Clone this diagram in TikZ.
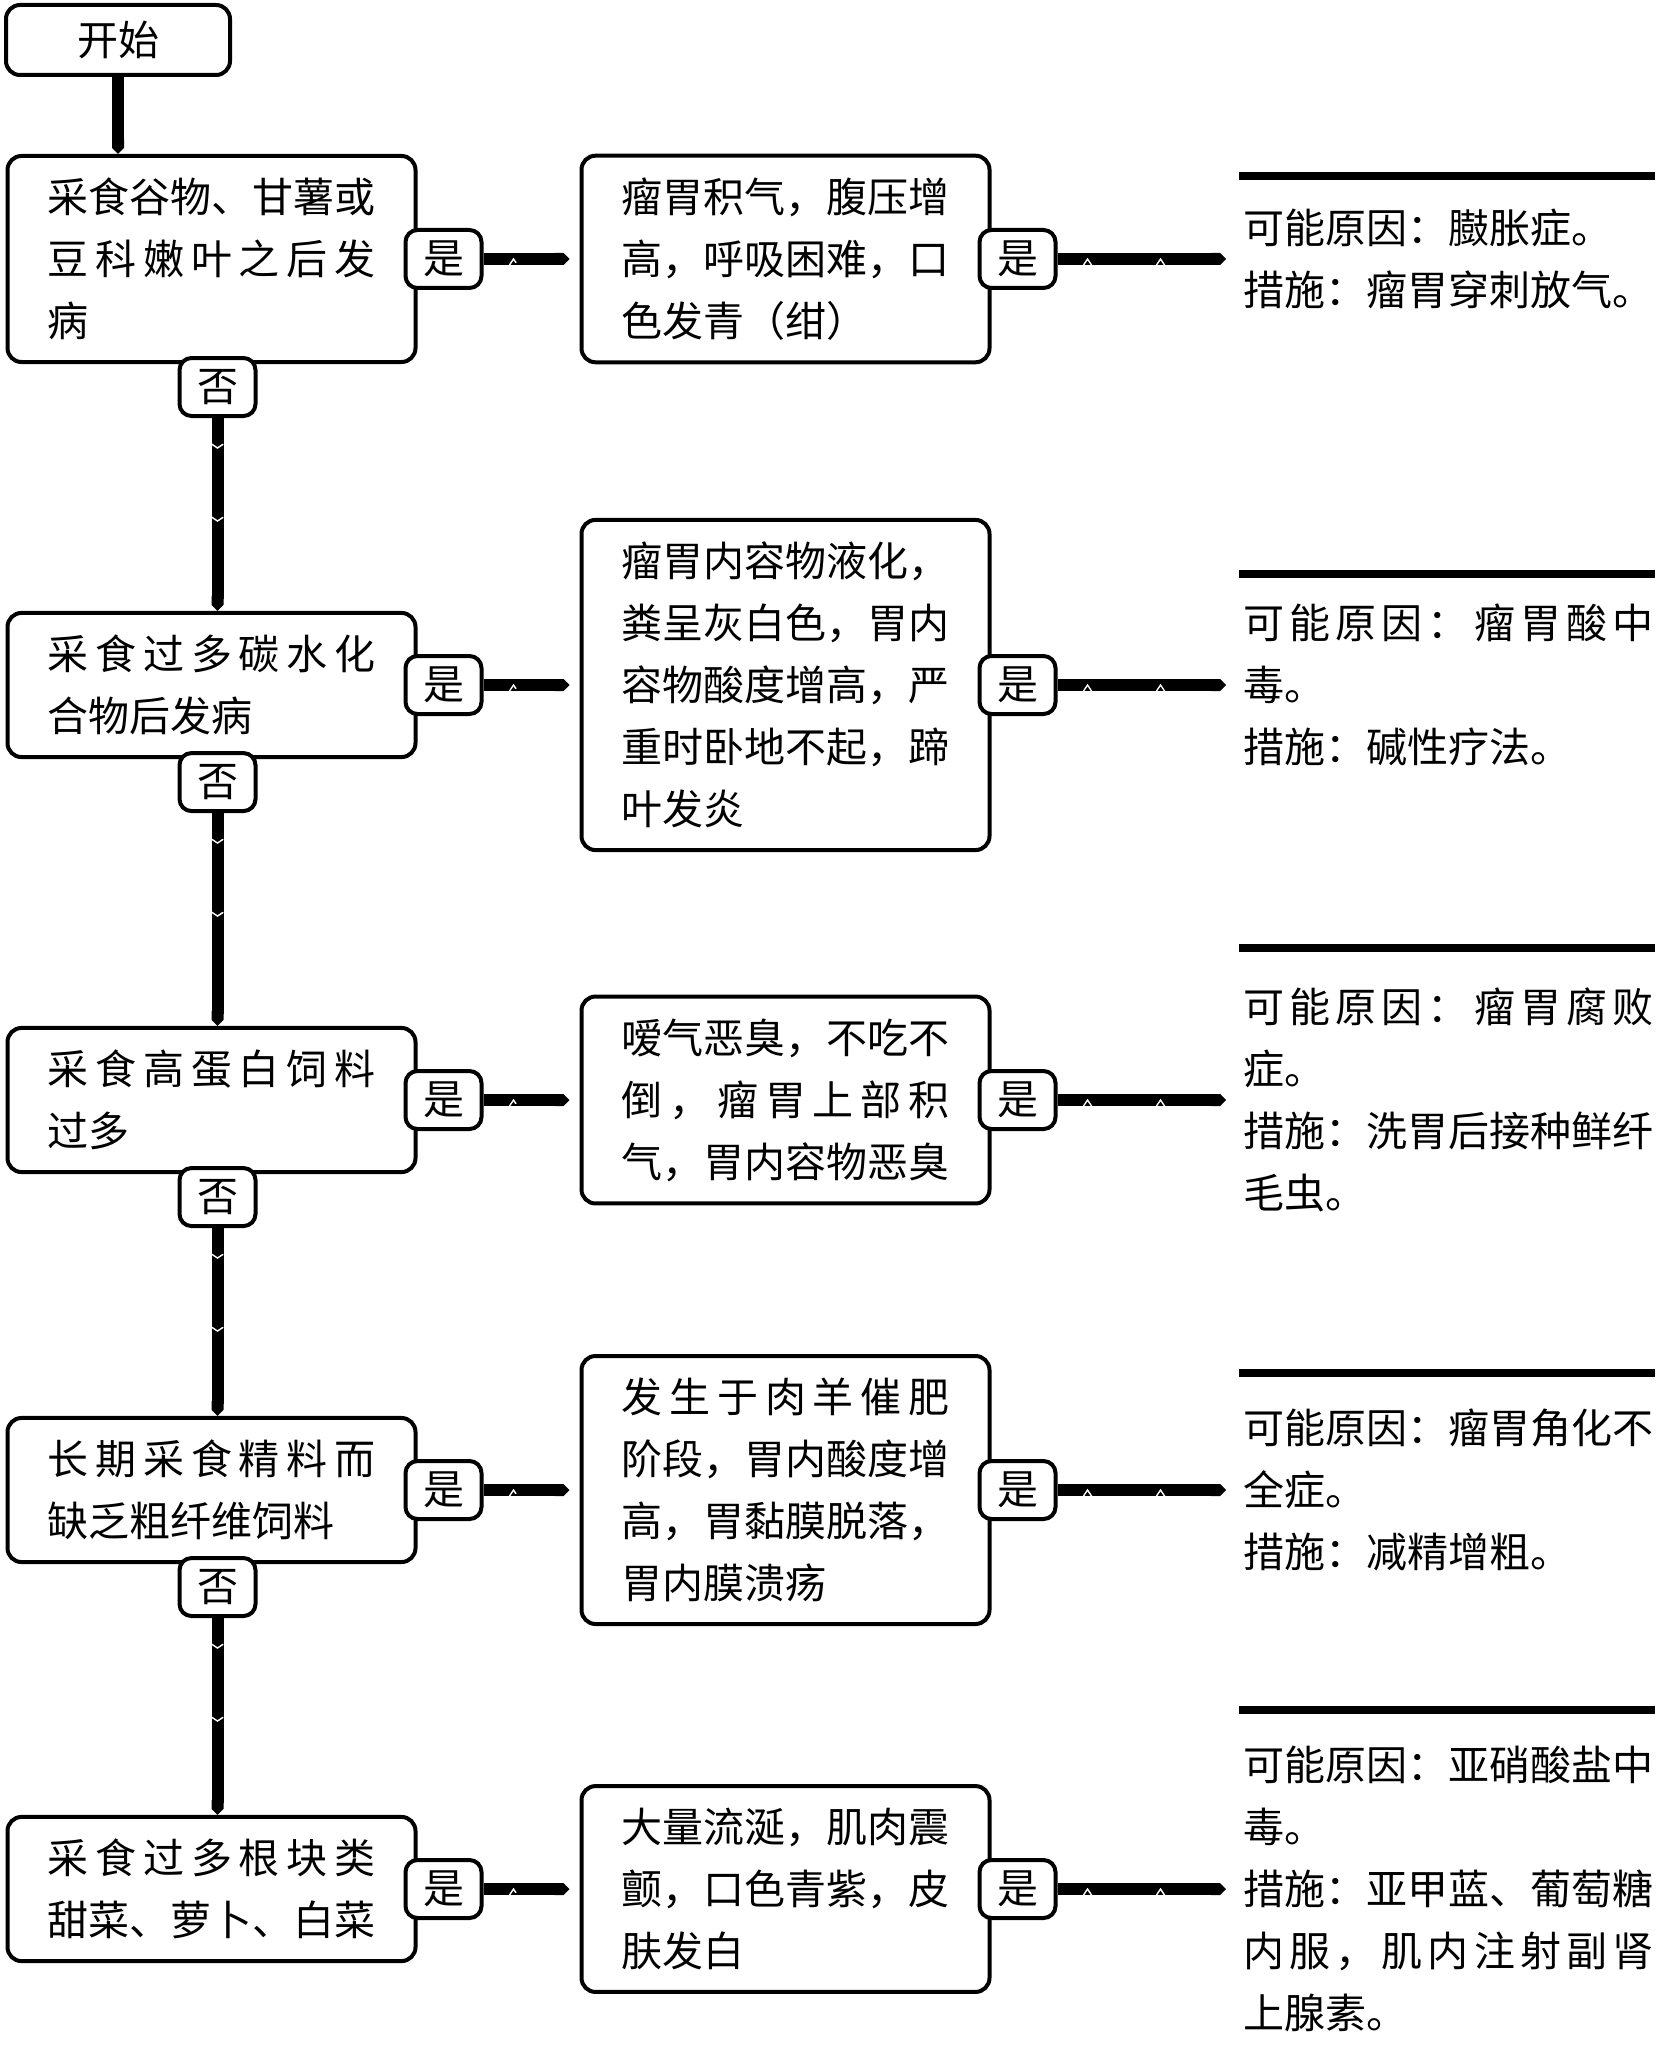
\documentclass[tikz,border=0pt]{standalone}
\usepackage{fontspec}
\setmainfont{Noto Sans CJK SC}
\usetikzlibrary{decorations.markings,arrows.meta}

% spread the characters of one line over the full text width
\newcommand\spreadline[1]{\makebox[\linewidth][s]{\spreadfirst#1\relax}}
\def\spreadfirst#1{#1\spreadrest}
\def\spreadrest#1{\ifx\relax#1\else\hfill#1\expandafter\spreadrest\fi}

\tikzset{
  flowbox/.style={draw, line width=2pt, rounded corners=7pt, text width=164pt,
    align=left, inner xsep=20pt, inner ysep=11pt},
  tag/.style={draw, line width=2pt, rounded corners=6pt, fill=white,
    minimum width=38pt, minimum height=29pt, inner sep=0pt},
  link/.style={line width=6pt, -{Triangle Cap[]}, postaction={decorate},
    decoration={markings, mark=between positions 15pt and -25pt step 36.5pt with
      {\draw[white, line width=0.7pt] (-2pt,-3pt) -- (0pt,0pt) -- (-2pt,3pt);}}},
  result/.style={text width=205pt, align=left, inner sep=0pt, anchor=west},
  resline/.style={line width=4pt},
}

\begin{document}
\begin{tikzpicture}[x=0.5pt, y=-0.5pt, font=\fontsize{20.5pt}{31pt}\selectfont]
    \useasboundingbox (0,0) rectangle (1659,2070);
    % Start
    \node[draw, line width=2pt, rounded corners=7pt, minimum width=112pt, minimum height=35pt] (start) at (118,40) {开始};
    % First row
    \begin{scope}[shift={(0,259)}]
        \node[flowbox] (cond1) at (211.5,0) {\spreadline{采食谷物、甘薯或}\\\spreadline{豆科嫩叶之后发}\\病};
        \node[flowbox] (symp1) at (785.5,0) {\spreadline{瘤胃积气，腹压增}\\\spreadline{高，呼吸困难，口}\\色发青（绀）};
        \node[result] (res1) at (1243,0) {可能原因：臌胀症。\\措施：瘤胃穿刺放气。};
        \draw[resline] (1239,-83) -- (1655,-83);
        \node[tag] (yesA1) at ([xshift=13pt]cond1.east) {是};
        \node[tag] (yesB1) at ([xshift=13pt]symp1.east) {是};
        \node[tag] (no1) at ([xshift=3pt,yshift=-11.5pt]cond1.south) {否};
    \end{scope}
    % Second row
    \begin{scope}[shift={(0,685)}]
        \node[flowbox] (cond2) at (211.5,0) {\spreadline{采食过多碳水化}\\合物后发病};
        \node[flowbox] (symp2) at (785.5,0) {\spreadline{瘤胃内容物液化，}\\\spreadline{粪呈灰白色，胃内}\\\spreadline{容物酸度增高，严}\\\spreadline{重时卧地不起，蹄}\\叶发炎};
        \node[result] (res2) at (1243,0) {\spreadline{可能原因：瘤胃酸中}\\毒。\\措施：碱性疗法。};
        \draw[resline] (1239,-111) -- (1655,-111);
        \node[tag] (yesA2) at ([xshift=13pt]cond2.east) {是};
        \node[tag] (yesB2) at ([xshift=13pt]symp2.east) {是};
        \node[tag] (no2) at ([xshift=3pt,yshift=-11.5pt]cond2.south) {否};
    \end{scope}
    % Third row
    \begin{scope}[shift={(0,1100)}]
        \node[flowbox] (cond3) at (211.5,0) {\spreadline{采食高蛋白饲料}\\过多};
        \node[flowbox] (symp3) at (785.5,0) {\spreadline{嗳气恶臭，不吃不}\\\spreadline{倒，瘤胃上部积}\\气，胃内容物恶臭};
        \node[result] (res3) at (1243,0) {\spreadline{可能原因：瘤胃腐败}\\症。\\措施：洗胃后接种鲜纤\\毛虫。};
        \draw[resline] (1239,-152) -- (1655,-152);
        \node[tag] (yesA3) at ([xshift=13pt]cond3.east) {是};
        \node[tag] (yesB3) at ([xshift=13pt]symp3.east) {是};
        \node[tag] (no3) at ([xshift=3pt,yshift=-11.5pt]cond3.south) {否};
    \end{scope}
    % Fourth row
    \begin{scope}[shift={(0,1490)}]
        \node[flowbox] (cond4) at (211.5,0) {\spreadline{长期采食精料而}\\缺乏粗纤维饲料};
        \node[flowbox] (symp4) at (785.5,0) {\spreadline{发生于肉羊催肥}\\\spreadline{阶段，胃内酸度增}\\\spreadline{高，胃黏膜脱落，}\\胃内膜溃疡};
        \node[result] (res4) at (1243,0) {可能原因：瘤胃角化不\\全症。\\措施：减精增粗。};
        \draw[resline] (1239,-117) -- (1655,-117);
        \node[tag] (yesA4) at ([xshift=13pt]cond4.east) {是};
        \node[tag] (yesB4) at ([xshift=13pt]symp4.east) {是};
        \node[tag] (no4) at ([xshift=3pt,yshift=-11.5pt]cond4.south) {否};
    \end{scope}
    % Fifth row
    \begin{scope}[shift={(0,1889)}]
        \node[flowbox] (cond5) at (211.5,0) {\spreadline{采食过多根块类}\\\spreadline{甜菜、萝卜、白菜}};
        \node[flowbox] (symp5) at (785.5,0) {\spreadline{大量流涎，肌肉震}\\\spreadline{颤，口色青紫，皮}\\肤发白};
        \node[result] (res5) at (1243,0) {可能原因：亚硝酸盐中\\毒。\\措施：亚甲蓝、葡萄糖\\\spreadline{内服，肌内注射副肾}\\上腺素。};
        \draw[resline] (1239,-179) -- (1655,-179);
        \node[tag] (yesA5) at ([xshift=13pt]cond5.east) {是};
        \node[tag] (yesB5) at ([xshift=13pt]symp5.east) {是};
    \end{scope}
    % Connectors
    \draw[link] (start.south) -- (start.south |- cond1.north);
    \foreach \i/\j in {1/2,2/3,3/4,4/5}
        \draw[link] (no\i.south) -- (no\i.south |- cond\j.north);
    \foreach \i in {1,...,5} {
        \draw[link, shorten >=5pt] (yesA\i.east) -- (symp\i.west);
        \draw[link, shorten >=8.5pt] (yesB\i.east) -- (yesB\i.east -| res\i.west);
    }
\end{tikzpicture}
\end{document}
